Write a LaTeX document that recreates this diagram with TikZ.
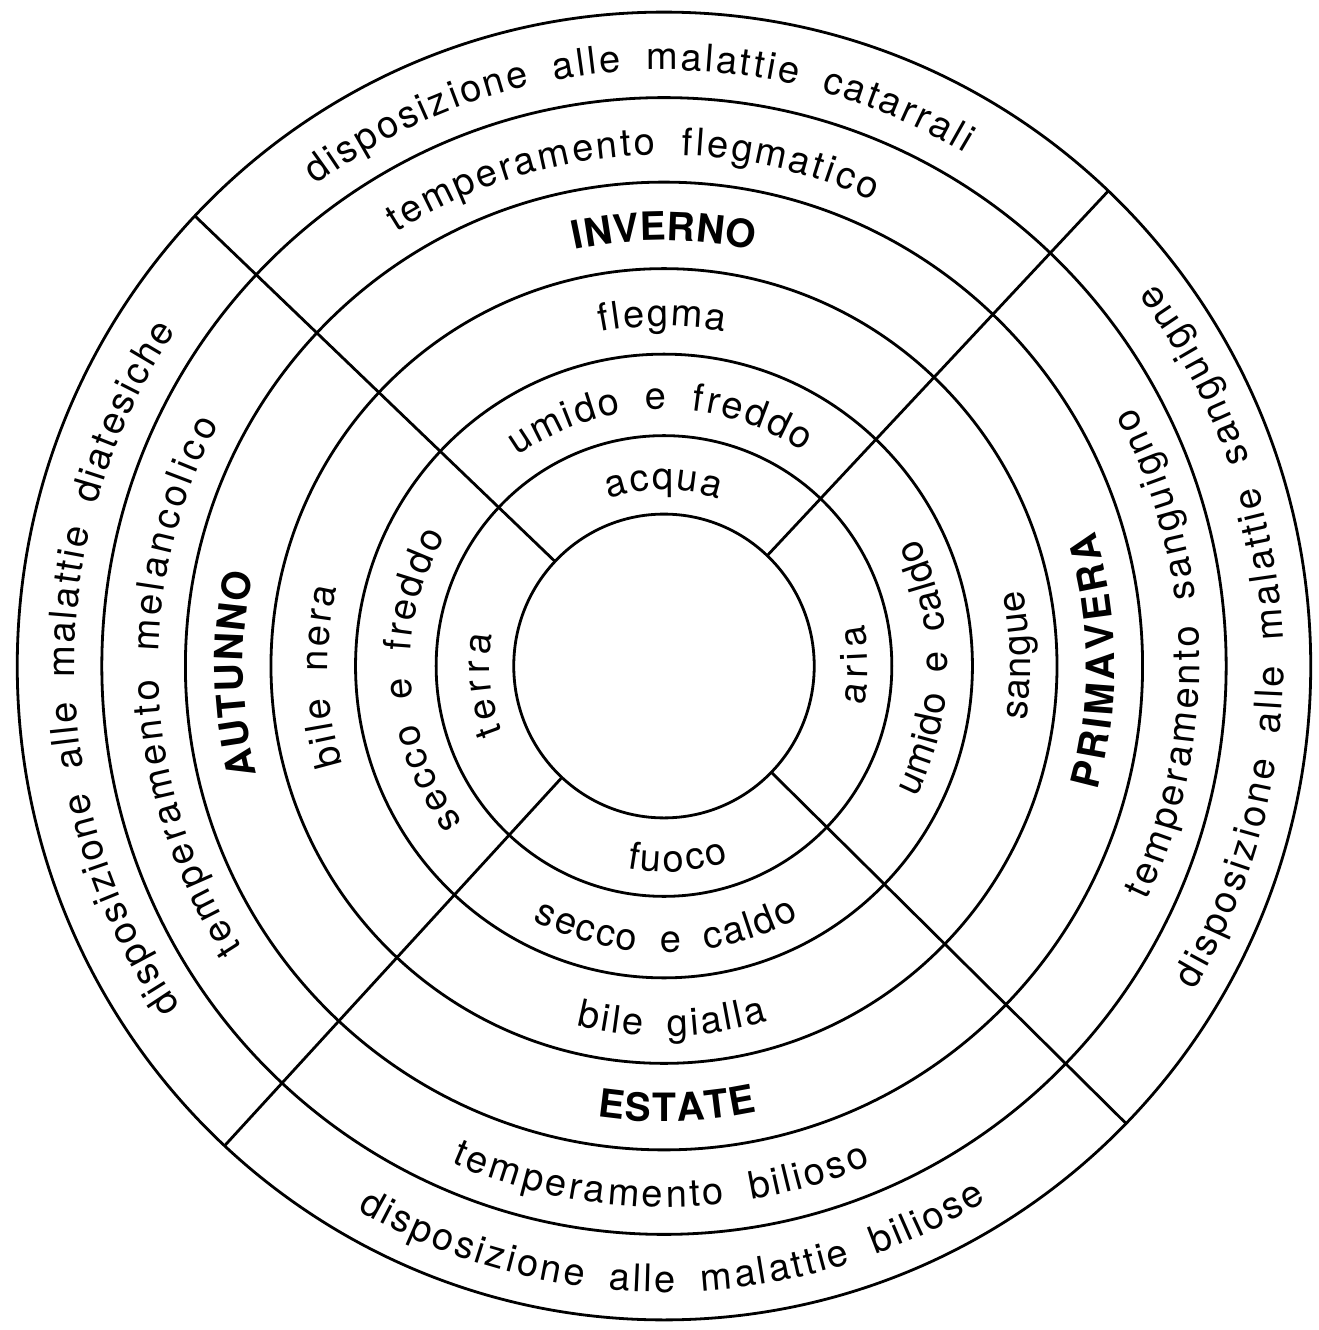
\documentclass[tikz,border=0pt]{standalone}
\usepackage{fontspec}
\usetikzlibrary{decorations.text}
\newfontfamily\ringfamily[WordSpace=1.9]{TeX Gyre Heros}
\newcommand\ringfont{\ringfamily\fontsize{19}{22}\selectfont}
\newcommand\seasonfont{\ringfamily\bfseries\fontsize{19.5}{22}\selectfont}
\tikzset{
  ringtext/.style={decorate, decoration={text along path, text align=fit to path, raise=-7.5pt}}
}
\begin{document}
\begin{tikzpicture}[x=0.5pt, y=0.5pt, line width=1.4pt]
  \useasboundingbox (-664,-664) rectangle (655,666);
  \begin{scope}[xscale=0.995, yscale=1.006]
    \foreach \r in {650,565,481,395,310,229,151} \draw (0,0) circle (\r);
    \foreach \a in {46.6,136.5,227.2,315.6} \draw (\a:151) -- (\a:650);
    % rings of plain text
    \foreach \r/\from/\to/\lab in {
        607.5/126.2/59.4/{disposizione alle malattie catarrali},
        607.5/214.8/145.9/{disposizione alle malattie diatesiche},
        607.5/240.3/301.4/{disposizione alle malattie biliose},
        607.5/-31.2/37.6/{disposizione alle malattie sanguigne},
        523/122/65.6/{temperamento flegmatico},
        523/213.4/151.8/{temperamento melancolico},
        523/246.6/292.8/{temperamento bilioso},
        523/-25.7/28.6/{temperamento sanguigno},
        353/100.8/79.7/{flegma},
        353/196.8/166.7/{bile nera},
        353/256.1/286.5/{bile gialla},
        353/-8.6/12/{sangue},
        270/125/56.8/{umido e freddo},
        270/217.4/149.7/{secco e freddo},
        270/242.4/298.6/{secco e caldo},
        270/-27.5/26.5/{umido e caldo},
        190/108.2/71.8/{acqua},
        190/202/170/{terra},
        190/259.5/288.8/{fuoco},
        190/-11.3/11.8/{aria}}
      \path[ringtext, decoration={text/.expanded={|\noexpand\ringfont|\lab}}]
        (\from:\r) arc[start angle=\from, end angle=\to, radius=\r];
    % seasons
    \foreach \from/\to/\lab in {102.2/77.8/INVERNO, 194.7/167.5/AUTUNNO,
        261.5/282/ESTATE, -15.9/17.3/PRIMAVERA}
      \path[ringtext, decoration={text/.expanded={|\noexpand\seasonfont|\lab}}]
        (\from:438) arc[start angle=\from, end angle=\to, radius=438];
  \end{scope}
\end{tikzpicture}
\end{document}
